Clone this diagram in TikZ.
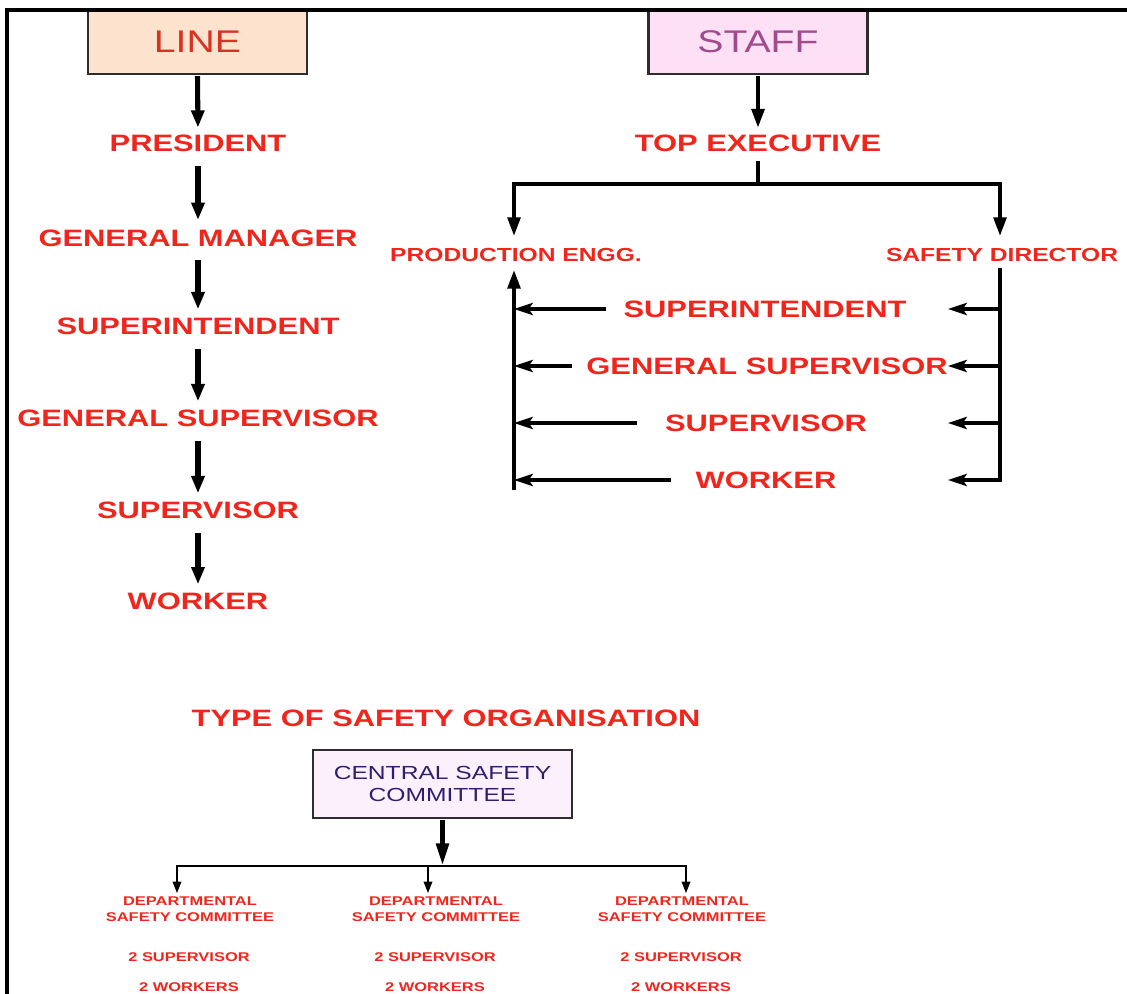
\documentclass[tikz,border=0pt]{standalone}
\usepackage{fontspec}
\setmainfont{Liberation Sans}
\usepackage{graphicx}
\usetikzlibrary{arrows.meta}
\definecolor{lbl}{RGB}{240,38,28}
\definecolor{linetxt}{RGB}{215,50,35}
\definecolor{linefill}{RGB}{253,227,205}
\definecolor{stafffill}{RGB}{253,224,246}
\definecolor{stafftxt}{RGB}{160,75,140}
\definecolor{cscfill}{RGB}{252,240,252}
\definecolor{csctxt}{RGB}{45,30,110}
\definecolor{boxline}{RGB}{45,45,45}
\newcommand{\sx}[1]{\scalebox{1.3}[1]{#1}}
\newcommand{\sy}[1]{\scalebox{1.25}[1]{#1}}
\begin{document}
\begin{tikzpicture}[x=0.75pt,y=-0.75pt,
  big/.style={text=lbl, font=\fontsize{17.8}{20}\selectfont\bfseries, inner sep=0pt},
  mid/.style={text=lbl, font=\fontsize{14.2}{16}\selectfont\bfseries, inner sep=0pt},
  small/.style={text=lbl, font=\fontsize{9.5}{12}\selectfont\bfseries, inner sep=0pt, align=center},
  headbox/.style={draw=boxline, line width=1.6pt, minimum width=164.25pt, minimum height=48pt, inner sep=0pt, font=\fontsize{23.5}{26}\selectfont},
  cscbox/.style={draw=boxline, line width=1.6pt, fill=cscfill, text=csctxt, minimum width=194.25pt, minimum height=51pt, inner sep=0pt, align=center, font=\fontsize{14.2}{16.5}\selectfont},
  larr/.style={line width=3.8pt, -{Triangle[length=13pt,width=9.5pt]}},
  sline/.style={line width=2.8pt},
  sarr/.style={line width=2.8pt, -{Triangle[length=14pt,width=9.5pt]}},
  harr/.style={line width=2.8pt, -{Stealth[length=14pt,width=9pt,inset=3pt]}},
  carr/.style={line width=3.8pt, -{Triangle[length=17pt,width=9pt]}},
  dline/.style={line width=2.2pt},
  darr/.style={line width=2.2pt, -{Triangle[length=9pt,width=6pt]}}
]
\useasboundingbox (0,0) rectangle (1127,994);
\clip (0,0) rectangle (1127,994);

% ---------------- LINE ----------------
\node[headbox, fill=linefill, text=linetxt] (line) at (197.5,42) {\sy{LINE}};
\node[big] (pres) at (198,143) {\sx{PRESIDENT}};
\node[big] (gm) at (198,238) {\sx{GENERAL MANAGER}};
\node[big] (sup) at (198,326) {\sx{SUPERINTENDENT}};
\node[big] (gs) at (198,418) {\sx{GENERAL SUPERVISOR}};
\node[big] (sv) at (198,510) {\sx{SUPERVISOR}};
\node[big] (wk) at (198,601) {\sx{WORKER}};
\draw[larr, shorten <=0.8pt, shorten >=5pt] (line.south) -- (pres.north);
\draw[larr, shorten <=11pt, shorten >=7pt] (pres.south) -- (gm.north);
\draw[larr, shorten <=10pt, shorten >=6pt] (gm.south) -- (sup.north);
\draw[larr, shorten <=11pt, shorten >=6pt] (sup.south) -- (gs.north);
\draw[larr, shorten <=11pt, shorten >=6pt] (gs.south) -- (sv.north);
\draw[larr, shorten <=11pt, shorten >=6pt] (sv.south) -- (wk.north);

% ---------------- STAFF ----------------
\node[headbox, fill=stafffill, text=stafftxt] (staff) at (758,42) {\sy{STAFF}};
\node[big] (te) at (758,143) {\sx{TOP EXECUTIVE}};
\node[mid] (pe) at (516,255) {\sx{PRODUCTION ENGG.}};
\node[mid] (sd) at (1002,255) {\sx{SAFETY DIRECTOR}};
\draw[sarr, shorten <=0.8pt, shorten >=5pt] (staff.south) -- (te.north);
\coordinate (hm) at (758,184);
\coordinate (hl) at (514,184);
\coordinate (hr) at (1000,184);
\draw[sline, shorten <=7pt] (te.south) -- (hm);
\draw[sline, line cap=rect] (hl) -- (hr);
\draw[sarr, shorten >=9pt] (hl) -- (hl |- pe.north);
\draw[sarr, shorten >=9pt] (hr) -- (hr |- sd.north);

\node[big] (r1) at (765,309) {\sx{SUPERINTENDENT}};
\node[big] (r2) at (767,366) {\sx{GENERAL SUPERVISOR}};
\node[big] (r3) at (766,423) {\sx{SUPERVISOR}};
\node[big] (r4) at (766,480) {\sx{WORKER}};
\coordinate (lvb) at (514,490);
\coordinate (lvt) at (514,270);
\coordinate (rvt) at (1000,268);
\coordinate (rvb) at (1000,482);
\coordinate (rtip) at (948,0);
\draw[sarr] (lvb) -- (lvt);
\draw[sline] (rvt) -- (rvb);
\draw[harr] ([xshift=-12.75pt]r1.west) -- (r1.west -| lvb);
\draw[harr] ([xshift=-10.5pt]r2.west) -- (r2.west -| lvb);
\draw[harr] ([xshift=-21pt]r3.west) -- (r3.west -| lvb);
\draw[harr] ([xshift=-18pt]r4.west) -- (r4.west -| lvb);
\draw[harr] (r1 -| rvt) -- (r1 -| rtip);
\draw[harr] (r2 -| rvt) -- (r2 -| rtip);
\draw[harr] (r3 -| rvt) -- (r3 -| rtip);
\draw[harr] (r4 -| rvt) -- (r4 -| rtip);

% ---------------- SAFETY ORGANISATION ----------------
\node[big] (title) at (446,718) {\sx{TYPE OF SAFETY ORGANISATION}};
\node[cscbox] (csc) at (442.5,784) {\sx{CENTRAL SAFETY}\\\sx{COMMITTEE}};
\coordinate (bm) at (443,866);
\coordinate (b1) at (177,866);
\coordinate (b2) at (428,866);
\coordinate (b3) at (686,866);
\draw[dline, line cap=rect] (b1) -- (b3);
\draw[carr, shorten <=0.8pt] (csc.south) -- (csc.south |- bm);

\node[small] (dep1) at (190,909) {\sx{DEPARTMENTAL}\\\sx{SAFETY COMMITTEE}};
\node[small] (dep2) at (436,909) {\sx{DEPARTMENTAL}\\\sx{SAFETY COMMITTEE}};
\node[small] (dep3) at (682,909) {\sx{DEPARTMENTAL}\\\sx{SAFETY COMMITTEE}};
\draw[darr, shorten >=2pt] (b1) -- (b1 |- dep1.north);
\draw[darr, shorten >=2pt] (b2) -- (b2 |- dep2.north);
\draw[darr, shorten >=2pt] (b3) -- (b3 |- dep3.north);
\node[small] (s1) at (189,957) {\sx{2 SUPERVISOR}};
\node[small] (s2) at (435,957) {\sx{2 SUPERVISOR}};
\node[small] (s3) at (681,957) {\sx{2 SUPERVISOR}};
\node[small] (w1) at (189,987) {\sx{2 WORKERS}};
\node[small] (w2) at (435,987) {\sx{2 WORKERS}};
\node[small] (w3) at (681,987) {\sx{2 WORKERS}};

% ---------------- frame ----------------
\draw[line width=2.4pt] (1135,10) -- (7,10) -- (7,1005);
\end{tikzpicture}
\end{document}
